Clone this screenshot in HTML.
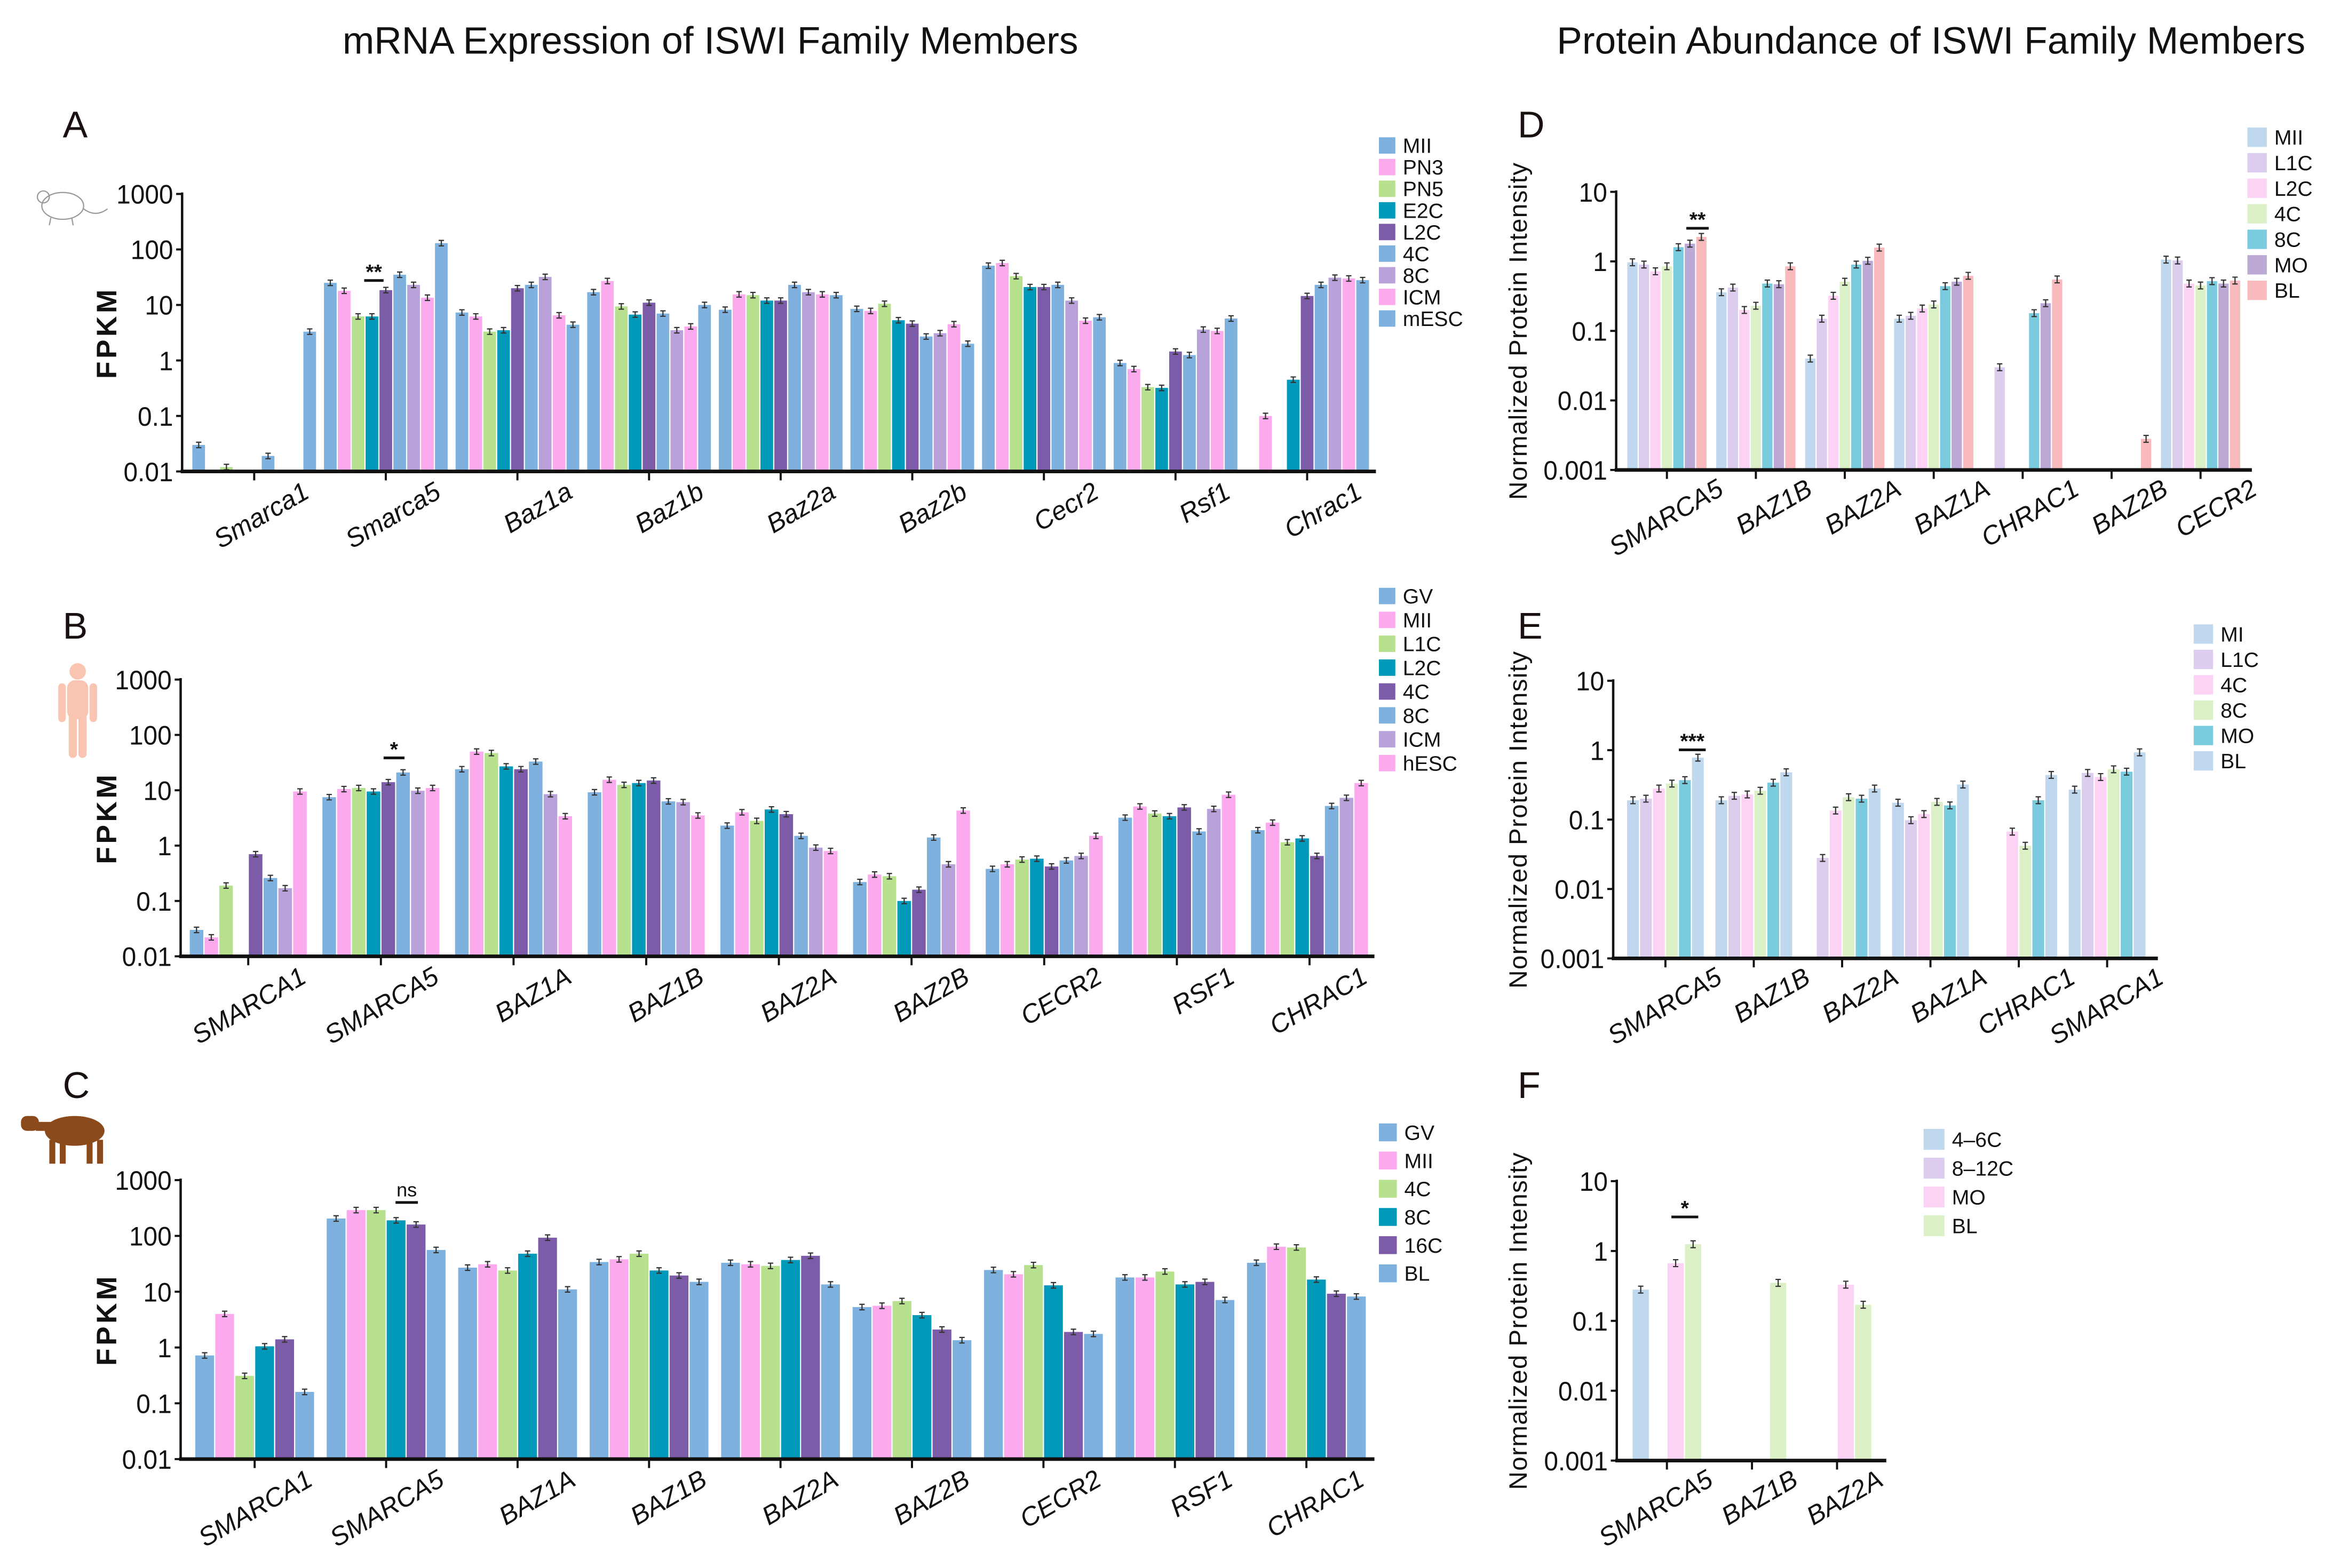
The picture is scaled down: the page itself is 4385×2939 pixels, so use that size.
<!DOCTYPE html>
<html><head><meta charset="utf-8">
<style>
html,body{margin:0;padding:0;background:#fff;}
svg{display:block;font-family:"Liberation Sans",sans-serif;}
</style></head>
<body>
<svg id="fig" width="4385" height="2939" viewBox="0 0 1568 1051" xmlns="http://www.w3.org/2000/svg">
<rect x="0" y="0" width="1568" height="1051" fill="#fff"/>
<text x="476" y="36" font-size="25.5" text-anchor="middle" fill="#111">mRNA Expression of ISWI Family Members</text>
<text x="1294" y="36" font-size="25.5" text-anchor="middle" fill="#111">Protein Abundance of ISWI Family Members</text>
<text x="42" y="92" font-size="25" fill="#1a1010">A</text>
<text x="42" y="428" font-size="25" fill="#1a1010">B</text>
<text x="42" y="736" font-size="25" fill="#1a1010">C</text>
<text x="1017" y="92" font-size="25" fill="#1a1010">D</text>
<text x="1017" y="428" font-size="25" fill="#1a1010">E</text>
<text x="1017" y="736" font-size="25" fill="#1a1010">F</text>
<g fill="none" stroke="#999" stroke-width="0.8">
<ellipse cx="42" cy="138" rx="14" ry="9"/><circle cx="29" cy="132" r="4"/><path d="M56 140 Q64 146 72 140"/><path d="M34 146 l-1 5 M48 146 l1 5"/>
</g>
<g fill="#f9c4b0">
<circle cx="52" cy="450" r="5.5"/><rect x="45" y="456" width="14" height="26" rx="5"/><rect x="39" y="458" width="5" height="26" rx="2.5"/><rect x="60" y="458" width="5" height="26" rx="2.5"/><rect x="46" y="478" width="5.5" height="30" rx="2.7"/><rect x="52.5" y="478" width="5.5" height="30" rx="2.7"/>
</g>
<g fill="#8a4a1c">
<ellipse cx="50" cy="758" rx="20" ry="10"/><rect x="14" y="748" width="12" height="10" rx="4"/><rect x="24" y="752" width="10" height="6"/><rect x="33" y="764" width="4" height="16"/><rect x="40" y="764" width="4" height="16"/><rect x="58" y="764" width="4" height="16"/><rect x="65" y="764" width="4" height="16"/>
</g>
<g id="plots"></g>
</svg>
<script>
// ---------- Panel A data ----------
const A_categories = ["Smarca1","Smarca5","Baz1a","Baz1b","Baz2a","Baz2b","Cecr2","Rsf1","Chrac1"];
const A_series = ["MII","PN3","PN5","E2C","L2C","4C","8C","ICM","mESC"];
const A_values = [
 [0.03,0,0.012,0,0,0.019,0,0,3.3],
 [25,18,6.2,6.2,18.5,35,23,13.5,130],
 [7.3,6.2,3.3,3.5,20,23,32,6.5,4.4],
 [17,27,9.4,6.7,11,7,3.5,4.1,10],
 [8.2,15.5,15,12,12,23,17,15.5,15],
 [8.5,7.8,10.5,5.3,4.6,2.7,3.1,4.5,2],
 [51,57,33,21,21,23,12,5.2,6],
 [0.9,0.7,0.33,0.32,1.45,1.25,3.6,3.4,5.7],
 [0,0.1,0,0.45,14.5,23,31,30,28]];
// ---------- Panel B data ----------
const B_categories = ["SMARCA1","SMARCA5","BAZ1A","BAZ1B","BAZ2A","BAZ2B","CECR2","RSF1","CHRAC1"];
const B_series = ["GV","MII","L1C","L2C","4C","8C","ICM","hESC"];
const B_values = [
 [0.03,0.022,0.19,0,0.7,0.26,0.17,9.5],
 [7.5,10.5,11,9.5,14,21,9.8,11],
 [24,50,47,27,24,33,8.5,3.4],
 [9.2,15.5,12.5,13.5,15,6.3,6.1,3.5],
 [2.3,4,2.8,4.5,3.7,1.5,0.92,0.8],
 [0.22,0.3,0.28,0.1,0.16,1.4,0.46,4.3],
 [0.38,0.46,0.56,0.58,0.42,0.54,0.65,1.5],
 [3.2,5.1,3.8,3.4,4.9,1.8,4.6,8.3],
 [1.9,2.6,1.15,1.35,0.65,5.2,7.3,13.5]];
// ---------- Panel C data ----------
const C_categories = ["SMARCA1","SMARCA5","BAZ1A","BAZ1B","BAZ2A","BAZ2B","CECR2","RSF1","CHRAC1"];
const C_series = ["GV","MII","4C","8C","16C","BL"];
const C_values = [
 [0.72,4,0.31,1.05,1.4,0.16],
 [205,290,290,190,160,56],
 [27,31,24,48,93,11],
 [34,38,48,24,19.5,15],
 [33,31,29,37,44,13.5],
 [5.3,5.6,6.8,3.8,2.1,1.35],
 [24.5,20.5,30,13,1.9,1.75],
 [18,18,23,13.5,15,7.1],
 [33,64,62,16.5,9.2,8.2]];
// ---------- Panel D data ----------
const D_categories = ["SMARCA5","BAZ1B","BAZ2A","BAZ1A","CHRAC1","BAZ2B","CECR2"];
const D_series = ["MII","L1C","L2C","4C","8C","MO","BL"];
const D_values = [
 [0.97,0.9,0.72,0.85,1.6,1.8,2.25],
 [0.36,0.42,0.2,0.23,0.48,0.47,0.85],
 [0.04,0.15,0.32,0.51,0.9,1.02,1.58],
 [0.15,0.165,0.21,0.24,0.44,0.51,0.62],
 [0,0.03,0,0,0.18,0.25,0.55],
 [0,0,0,0,0,0,0.0028],
 [1.06,1.03,0.48,0.45,0.52,0.48,0.53]];
// ---------- Panel E data ----------
const E_categories = ["SMARCA5","BAZ1B","BAZ2A","BAZ1A","CHRAC1","SMARCA1"];
const E_series = ["MI","L1C","4C","8C","MO","BL"];
const E_values = [
 [0.19,0.2,0.28,0.33,0.37,0.78],
 [0.19,0.22,0.23,0.26,0.34,0.48],
 [0,0.028,0.135,0.21,0.2,0.28],
 [0.175,0.098,0.12,0.18,0.16,0.32],
 [0,0,0.067,0.042,0.19,0.44],
 [0.27,0.47,0.41,0.53,0.49,0.93]];
// ---------- Panel F data ----------
const F_categories = ["SMARCA5","BAZ1B","BAZ2A"];
const F_series = ["4–6C","8–12C","MO","BL"];
const F_values = [
 [0.28,0,0.67,1.25],
 [0,0,0,0.35],
 [0,0,0.33,0.17]];

const BL="#7fb1de",PK="#fbaaee",GR="#b7e18f",TL="#0099b9",PU="#7c5ca9",LV="#b9a1da";
const pLB="#bfd8ee",pLV="#dccdee",pPK="#fcd2f5",pLG="#dcf0c8",pCY="#7acbde",pPU="#bca9d6",pSA="#f9babd";

const NS="http://www.w3.org/2000/svg";
const root=document.getElementById('plots');
function mk(tag,attrs,parent){const e=document.createElementNS(NS,tag);for(const k in attrs)e.setAttribute(k,attrs[k]);(parent||root).appendChild(e);return e;}

function drawPanel(cfg){
  const g=mk('g',{});
  
  
  const lmin=cfg.lmin,lmax=cfg.lmax;
  const yS=v=>cfg.y0-(Math.log10(v)-lmin)*(cfg.y0-cfg.yTop)/(lmax-lmin);
  const xS=i=>cfg.first+i*cfg.step;
  const ns=cfg.series.length;
  cfg.values.forEach((row,ci)=>{
    row.forEach((v,si)=>{
      if(!(v>0))return;
      const x=xS(ci)-ns*cfg.bw/2+si*cfg.bw;
      const y=yS(v);
      const r=mk('rect',{x:x+0.4,y:y,width:cfg.bw-0.8,height:cfg.y0-y,fill:cfg.colors[si]},g);
      
      
      const cx=x+cfg.bw/2, hi=yS(v*1.12), lo=yS(v/1.12);
      const eb=mk('path',{d:`M${cx} ${hi}V${lo}M${cx-1.8} ${hi}H${cx+1.8}M${cx-1.8} ${lo}H${cx+1.8}`,stroke:'#333','stroke-width':0.8,fill:'none'},g);
      
      
    });
  });
  const ya=mk('line',{x1:cfg.x0,y1:cfg.yTop-1,x2:cfg.x0,y2:cfg.y0,stroke:'#111','stroke-width':1.6},g);
  
  
  const xa=mk('line',{x1:cfg.x0-1,y1:cfg.y0,x2:cfg.x1,y2:cfg.y0,stroke:'#111','stroke-width':2.4},g);
  
  
  cfg.ticks.forEach((t,i)=>{
    const y=yS(Math.pow(10,lmin+i));
    const tk=mk('line',{x1:cfg.x0-4,y1:y,x2:cfg.x0,y2:y,stroke:'#111','stroke-width':1.4},g);
    
    
    const ax=cfg.x0-6;
    const tl=mk('text',{x:ax,y:y+6.5,'font-size':18,'text-anchor':'end',fill:'#111',transform:`translate(${ax},0) scale(0.95,1) translate(${-ax},0)`},g);
    tl.textContent=t;
    
    
  });
  cfg.categories.forEach((c,i)=>{
    const x=xS(i);
    const tk=mk('line',{x1:x,y1:cfg.y0,x2:x,y2:cfg.y0+6,stroke:'#111','stroke-width':1.4},g);
    
    
    const lx=x+cfg.lx, ly=cfg.y0+cfg.ly;
    const tl=mk('text',{x:lx,y:ly,'font-size':cfg.fs,'text-anchor':'end','font-style':'italic',fill:'#111',transform:`rotate(-30 ${lx} ${ly})`},g);
    tl.textContent=c;
    
    
  });
  const yt=mk('text',{x:cfg.ytx,y:(cfg.y0+cfg.yTop)/2,'font-size':cfg.ytfs,'font-weight':cfg.ytfw,'text-anchor':'middle',fill:'#111','letter-spacing':cfg.ytls,transform:`rotate(-90 ${cfg.ytx} ${(cfg.y0+cfg.yTop)/2})`},g);
  yt.textContent=cfg.ytitle;
  
  
  cfg.series.forEach((s,i)=>{
    const y=cfg.lgY+i*cfg.lgStep;
    const sq=mk('rect',{x:cfg.lgX,y:y-cfg.lgSq/2,width:cfg.lgSq,height:cfg.lgSq,fill:cfg.colors[i]},g);
    
    
    const tx=mk('text',{x:cfg.lgX+cfg.lgSq+5,y:y+5,'font-size':14,fill:'#111'},g);
    tx.textContent=s;
    
    
  });
  const s=cfg.sig;
  const sl=mk('line',{x1:s.x1,y1:s.y,x2:s.x2,y2:s.y,stroke:'#111','stroke-width':1.8},g);
  
  
  const st=mk('text',{x:(s.x1+s.x2)/2,y:s.y-(s.t==='ns'?4:1),'font-size':s.t==='ns'?13:14,'font-weight':s.t==='ns'?'normal':'bold','text-anchor':'middle',fill:'#111'},g);
  st.textContent=s.t;
  
  
}

const mr=["0.01","0.1","1","10","100","1000"];
const pr=["0.001","0.01","0.1","1","10"];
const mTitle={ytitle:"FPKM",ytfs:19,ytfw:600,ytls:2,ytx:78,lmin:-2,lmax:3,fs:17.5};
const pTitle={ytitle:"Normalized  Protein  Intensity",ytfs:17,ytfw:'normal',ytls:0.5,ytx:1023,lmin:-3,lmax:1,fs:17.5};

drawPanel(Object.assign({},mTitle,{name:'panel-a-chart',categories:A_categories,series:A_series,values:A_values,colors:[BL,PK,GR,TL,PU,BL,LV,PK,BL],
 x0:122,x1:922,y0:316,yTop:130,first:170.3,step:88.2,bw:9.3,ticks:mr,lx:38,ly:17,
 lgX:924,lgY:97.5,lgStep:14.5,lgSq:11,sig:{x1:244,x2:257,y:188,t:'**'}}));
drawPanel(Object.assign({},mTitle,{name:'panel-b-chart',categories:B_categories,series:B_series,values:B_values,colors:[BL,PK,GR,TL,PU,BL,LV,PK],
 x0:121,x1:921,y0:641,yTop:455.5,first:166.3,step:88.9,bw:9.9,ticks:mr,lx:40,ly:17,
 lgX:924,lgY:399.5,lgStep:16,lgSq:11,sig:{x1:257,x2:271,y:508,t:'*'}}));
drawPanel(Object.assign({},mTitle,{name:'panel-c-chart',categories:C_categories,series:C_series,values:C_values,colors:[BL,PK,GR,TL,PU,BL],
 x0:121,x1:921,y0:978,yTop:791,first:170.6,step:88.1,bw:13.4,ticks:mr,lx:40,ly:17,
 lgX:924,lgY:759,lgStep:18.9,lgSq:12,sig:{x1:265,x2:280,y:806,t:'ns'}}));
drawPanel(Object.assign({},pTitle,{name:'panel-d-chart',categories:D_categories,series:D_series,values:D_values,colors:[pLB,pLV,pPK,pLG,pCY,pPU,pSA],
 x0:1083,x1:1509,y0:315,yTop:128.6,first:1117,step:59.6,bw:7.7,ticks:pr,lx:39,ly:16,
 lgX:1506,lgY:92,lgStep:17.1,lgSq:13,sig:{x1:1130,x2:1145,y:153,t:'**'}}));
drawPanel(Object.assign({},pTitle,{name:'panel-e-chart',categories:E_categories,series:E_series,values:E_values,colors:[pLB,pLV,pPK,pLG,pCY,pLB],
 x0:1081,x1:1446,y0:642.4,yTop:456.3,first:1116,step:59.2,bw:8.7,ticks:pr,lx:39,ly:16,
 lgX:1470,lgY:425,lgStep:17,lgSq:13,sig:{x1:1125,x2:1143,y:502.6,t:'***'}}));
drawPanel(Object.assign({},pTitle,{name:'panel-f-chart',categories:F_categories,series:F_series,values:F_values,colors:[pLB,pLV,pPK,pLG],
 x0:1083.4,x1:1264,y0:979,yTop:791.7,first:1117,step:57,bw:11.7,ticks:pr,lx:32,ly:16,
 lgX:1289,lgY:763.7,lgStep:19.3,lgSq:14,sig:{x1:1120,x2:1138,y:815.7,t:'*'}}));
</script>
</body></html>
